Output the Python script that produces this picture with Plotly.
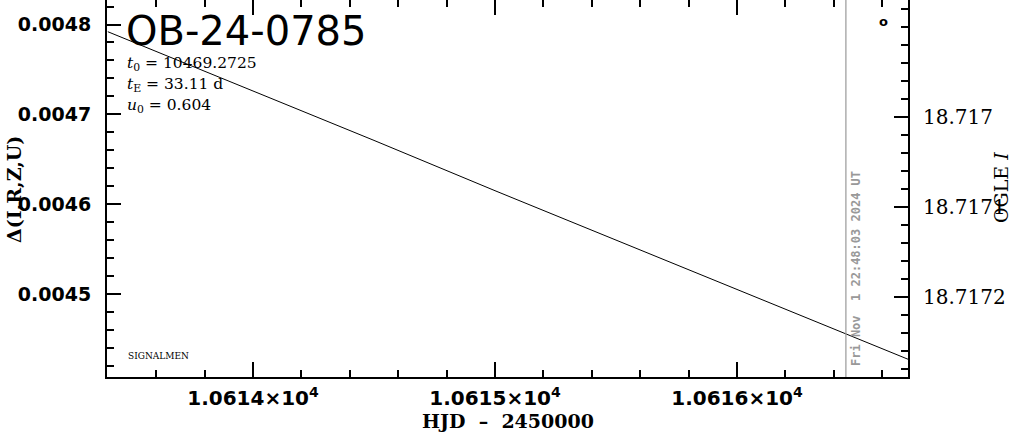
import plotly.graph_objects as go

# ---- data ----
hjd = [10613.40, 10614.0, 10614.5, 10615.0, 10615.5, 10616.0, 10616.5, 10616.71]
delta = [0.004792, 0.004726, 0.004671, 0.004615, 0.004560, 0.004505, 0.004450, 0.004427]

x_ticks = [10614, 10615, 10616]
x_ticktext = ["1.0614×10<sup>4</sup>", "1.0615×10<sup>4</sup>", "1.0616×10<sup>4</sup>"]
y_ticks = [0.0045, 0.0046, 0.0047, 0.0048]
y_ticktext = ["0.0045", "0.0046", "0.0047", "0.0048"]
mag_ticks = [18.717, 18.7171, 18.7172]
mag_ticktext = ["18.717", "18.7171", "18.7172"]

x_range = [10613.3967, 10616.7066]
y_range = [0.0044076, 0.0048273]
mag_range = [18.717289, 18.71687]

now_hjd = 10616.45
now_label = "Fri Nov  1 22:48:03 2024 UT"
event_name = "OB-24-0785"
params = ["<i>t</i><sub>0</sub> = 10469.2725",
          "<i>t</i><sub>E</sub> = 33.11 d",
          "<i>u</i><sub>0</sub> = 0.604"]

# ---- layout geometry (pixels) ----
W, H = 1011, 434
ML, MR, MT, MB = 107, 103, 0, 57
PW, PH = W - ML - MR, H - MT - MB


def px(x):
    return (x - ML) / PW


def py(y):
    return 1 - (y - MT) / PH


fig = go.Figure()
fig.add_trace(go.Scatter(x=hjd, y=delta, mode="lines",
                         line=dict(color="black", width=1),
                         showlegend=False, hoverinfo="skip"))
# invisible trace to activate the secondary axes
fig.add_trace(go.Scatter(x=[hjd[0]], y=[mag_ticks[0]], xaxis="x2", yaxis="y2",
                         mode="markers", marker=dict(opacity=0),
                         showlegend=False, hoverinfo="skip"))

fig.add_shape(type="line", x0=now_hjd, x1=now_hjd, y0=0, y1=1,
              xref="x", yref="paper", line=dict(color="#999999", width=1.2))

tickfont_bold = dict(family="DejaVu Sans", size=19, color="black", weight="bold")

fig.update_layout(
    width=W, height=H,
    margin=dict(l=ML, r=MR, t=MT, b=MB, pad=0),
    paper_bgcolor="white", plot_bgcolor="white",
    xaxis=dict(range=x_range, tickvals=x_ticks, ticktext=x_ticktext,
               ticks="inside", ticklen=15, tickwidth=1.5, tickcolor="black",
               minor=dict(dtick=0.2, tick0=10614, ticks="inside", ticklen=7,
                          tickwidth=1.5, tickcolor="black", showgrid=False),
               showline=True, linecolor="black", linewidth=2, mirror=False,
               showgrid=False, zeroline=False,
               tickfont=dict(family="DejaVu Sans", size=20, color="black", weight="bold"),
               ticklabelstandoff=2, automargin=False),
    xaxis2=dict(range=x_range, overlaying="x", side="top", tickvals=x_ticks,
                showticklabels=False, ticks="inside", ticklen=15, tickwidth=1.5,
                tickcolor="black",
                minor=dict(dtick=0.2, tick0=10614, ticks="inside", ticklen=7,
                           tickwidth=1.5, tickcolor="black", showgrid=False),
                showline=False, showgrid=False, zeroline=False, automargin=False),
    yaxis=dict(range=y_range, tickvals=y_ticks, ticktext=y_ticktext,
               ticks="inside", ticklen=14, tickwidth=1.5, tickcolor="black",
               minor=dict(dtick=0.00002, tick0=0.0045, ticks="inside", ticklen=7,
                          tickwidth=1.5, tickcolor="black", showgrid=False),
               showline=True, linecolor="black", linewidth=2,
               showgrid=False, zeroline=False, tickfont=tickfont_bold,
               ticklabelstandoff=10, automargin=False),
    yaxis2=dict(range=mag_range, overlaying="y", side="right", anchor="x",
                tickvals=mag_ticks, ticktext=mag_ticktext,
                ticks="inside", ticklen=14, tickwidth=1.5, tickcolor="black",
                minor=dict(dtick=0.00002, tick0=18.717, ticks="inside", ticklen=7,
                           tickwidth=1.5, tickcolor="black", showgrid=False),
                showline=True, linecolor="black", linewidth=2,
                showgrid=False, zeroline=False,
                tickfont=dict(family="DejaVu Serif", size=20, color="black"),
                ticklabelstandoff=9, automargin=False),
)

ann = []
# event name
ann.append(dict(x=px(124), y=py(31), xref="paper", yref="paper", text=event_name,
                showarrow=False, xanchor="left", yanchor="middle",
                font=dict(family="DejaVu Sans", size=40, color="black")))
# parameters
for txt, yy in zip(params, [64, 85, 106]):
    ann.append(dict(x=px(125), y=py(yy), xref="paper", yref="paper", text=txt,
                    showarrow=False, xanchor="left", yanchor="middle",
                    font=dict(family="DejaVu Serif", size=15.5, color="black")))
# SIGNALMEN
ann.append(dict(x=px(126), y=py(356), xref="paper", yref="paper", text="SIGNALMEN",
                showarrow=False, xanchor="left", yanchor="middle",
                font=dict(family="DejaVu Serif", size=9, color="black")))
# small 'o'
ann.append(dict(x=px(883), y=py(21), xref="paper", yref="paper", text="o",
                showarrow=False, xanchor="center", yanchor="middle",
                font=dict(family="DejaVu Sans", size=13, color="black", weight="bold")))
# current-time label
ann.append(dict(x=px(856), y=py(269), xref="paper", yref="paper", text=now_label,
                showarrow=False, xanchor="center", yanchor="middle", textangle=-90,
                font=dict(family="DejaVu Sans Mono", size=12, color="#999999",
                          weight="bold")))
# axis titles
ann.append(dict(x=px(508), y=py(421), xref="paper", yref="paper",
                text="HJD  –  2450000", showarrow=False,
                xanchor="center", yanchor="middle",
                font=dict(family="DejaVu Serif", size=19, color="black", weight="bold")))
ann.append(dict(x=px(14), y=py(190), xref="paper", yref="paper",
                text="Δ(I,R,Z,U)", showarrow=False, textangle=-90,
                xanchor="center", yanchor="middle",
                font=dict(family="DejaVu Serif", size=19, color="black", weight="bold")))
ann.append(dict(x=px(1001), y=py(188), xref="paper", yref="paper",
                text="OGLE <i>I</i>", showarrow=False, textangle=-90,
                xanchor="center", yanchor="middle",
                font=dict(family="DejaVu Serif", size=19, color="black")))
fig.update_layout(annotations=ann)

fig.write_html("out.html", config={"displayModeBar": False},
               post_script="document.body.style.margin='0';document.body.style.overflow='hidden';")
